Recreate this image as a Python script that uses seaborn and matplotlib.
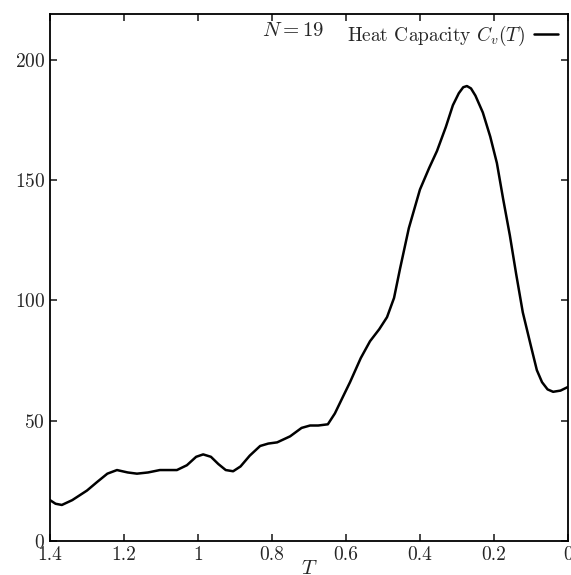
"""Heat capacity C_v(T) for N = 19."""

import matplotlib

matplotlib.use("Agg")
import matplotlib.pyplot as plt
import pandas as pd
import seaborn as sns

TEMPERATURE = [
    1.40, 1.385, 1.368, 1.34, 1.30, 1.273, 1.245, 1.219, 1.19, 1.165, 1.135,
    1.103, 1.08, 1.057, 1.03, 1.005, 0.986, 0.965, 0.945, 0.925, 0.905, 0.885,
    0.86, 0.832, 0.81, 0.786, 0.751, 0.72, 0.697, 0.675, 0.649, 0.63, 0.608,
    0.589, 0.56, 0.535, 0.51, 0.489, 0.47, 0.454, 0.43, 0.40, 0.375, 0.354,
    0.33, 0.311, 0.295, 0.283, 0.273, 0.262, 0.25, 0.23, 0.21, 0.192, 0.175,
    0.157, 0.14, 0.122, 0.10, 0.084, 0.07, 0.055, 0.04, 0.02, 0.0,
]
HEAT_CAPACITY = [
    17, 15.5, 15, 17, 21, 24.5, 28, 29.5, 28.5, 28, 28.5,
    29.5, 29.5, 29.5, 31.5, 35, 36, 35, 32, 29.5, 29, 31,
    35.5, 39.5, 40.5, 41, 43.5, 47, 48, 48, 48.5, 53, 60,
    66, 76, 83, 88, 93, 101, 113, 130, 146, 155, 162,
    172, 181, 186, 188.5, 189, 188, 185, 178, 168, 157, 142,
    127, 111, 95, 81, 71, 66, 63, 62, 62.5, 64,
]
X_TICKS = [1.4, 1.2, 1.0, 0.8, 0.6, 0.4, 0.2, 0.0]
X_TICK_LABELS = ["1.4", "1.2", "1", "0.8", "0.6", "0.4", "0.2", "0"]
Y_TICKS = [0, 50, 100, 150, 200]

sns.set_style("ticks")
plt.rcParams["font.family"] = ["cmr10", "DejaVu Serif"]
plt.rcParams["mathtext.fontset"] = "cm"
plt.rcParams["axes.formatter.use_mathtext"] = True

frame = pd.DataFrame({"T": TEMPERATURE, "Cv": HEAT_CAPACITY})

fig = plt.figure(figsize=(5.71, 5.75), dpi=100)
ax = fig.add_axes([0.0876, 0.059, 0.907, 0.917])

sns.lineplot(data=frame, x="T", y="Cv", sort=False, color="black", linewidth=1.8,
             label=r"Heat Capacity $C_v(T)$", ax=ax)

ax.set_xlim(1.4, 0.0)
ax.set_ylim(0, 219)
ax.set_xticks(X_TICKS)
ax.set_xticklabels(X_TICK_LABELS)
ax.set_yticks(Y_TICKS)
ax.tick_params(direction="in", top=True, right=True, labelsize=14, length=5, width=1.2)
for side in ax.spines.values():
    side.set_linewidth(1.3)
    side.set_color("black")

ax.set_xlabel(r"$T$", fontsize=15, labelpad=-3)
ax.set_ylabel("")

ax.legend(loc="upper right", frameon=False, markerfirst=False, fontsize=14,
          handlelength=1.2, handletextpad=0.5, borderaxespad=0.0,
          bbox_to_anchor=(0.995, 0.995))
ax.text(0.47, 0.968, r"$N = 19$", transform=ax.transAxes, fontsize=15, ha="center", va="center")

fig.savefig("out.png", dpi=100)
